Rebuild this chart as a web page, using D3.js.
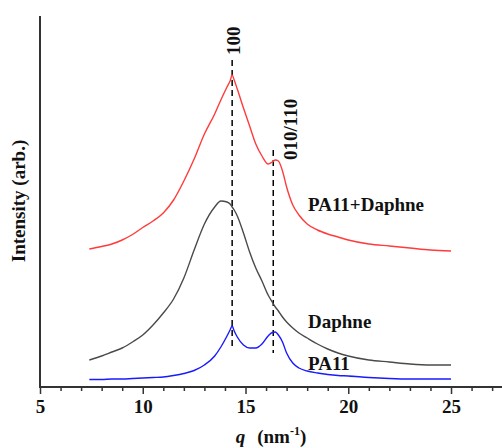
<!DOCTYPE html>
<html>
<head>
<meta charset="utf-8">
<script src="https://cdn.jsdelivr.net/npm/d3@7"></script>
<style>
  html, body { margin: 0; padding: 0; background: #fff; }
  svg { display: block; }
  text { font-family: "Liberation Serif", "Times New Roman", serif; font-weight: bold; }
</style>
</head>
<body>
<svg id="chart" width="502" height="448"></svg>
<script>
// ---- data (intensity in arbitrary units) ----
const q = [7.4, 8, 8.5, 9, 9.5, 10, 10.5, 11, 11.5, 12, 12.5, 13, 13.5, 13.8, 14.1, 14.25, 14.35, 14.45, 14.6, 14.9, 15.2, 15.5, 15.8, 16.1, 16.3, 16.45, 16.6, 16.8, 17, 17.3, 17.6, 18, 18.5, 19, 19.5, 20, 21, 22, 23, 24, 25];
const pa11Daphne = [138, 140.5, 143, 147, 152.5, 159.5, 166, 174, 187, 206, 228, 253, 273, 287, 300, 306, 312, 307, 298, 279, 261, 243, 231, 223, 225, 227, 226, 216, 200, 182, 172, 163, 157, 153, 150, 147, 143, 141, 139, 137, 136];
const daphne = [27, 31, 35, 39, 45, 52, 62, 74, 88, 109, 137, 163, 180, 186, 185, 183, 180, 177, 171, 154, 135, 119, 106, 92, 85, 80, 76, 70, 65, 59, 54, 49, 43, 38, 34, 31, 27, 25, 23, 22, 22];
const pa11 = [7.5, 7.5, 8, 8, 8.5, 9, 9.5, 10, 11.5, 13.5, 16.5, 22, 31, 40, 51, 57, 61, 56, 50, 42, 39, 39, 43, 51, 54.5, 55, 52, 45, 34, 24, 19, 16, 14, 12.5, 11.5, 11, 9.5, 8.5, 8, 8, 8];
const xTicksMajor = [5, 10, 15, 20, 25];
const xTicksMinor = [6, 7, 8, 9, 11, 12, 13, 14, 16, 17, 18, 19, 21, 22, 23, 24, 26, 27];
const peakPositions = [14.35, 16.35];
const peakLabels = ["100", "010/110"];
const seriesNames = ["PA11+Daphne", "Daphne", "PA11"];
const seriesColors = ["#ff3b3b", "#4a4a4a", "#1a1aff"];

// ---- layout ----
const svg = d3.select("#chart");
const x = d3.scaleLinear().domain([5, 27.5]).range([40, 502.4]);
const y = d3.scaleLinear().domain([0, 371]).range([387, 16]);

// dashed peak markers
const dashTop = [327, 237];   // intensity level where dashes start
const dashBot = [39, 34];
svg.selectAll(".peak").data(peakPositions).enter().append("line")
  .attr("x1", d => x(d)).attr("x2", d => x(d))
  .attr("y1", (d, i) => y(dashTop[i])).attr("y2", (d, i) => y(dashBot[i]))
  .attr("stroke", "#000").attr("stroke-width", 1.5).attr("stroke-dasharray", "6,4");

// curves
const line = d3.line().x((d, i) => x(q[i])).y(d => y(d)).curve(d3.curveMonotoneX);
[pa11Daphne, daphne, pa11].forEach((s, k) => {
  svg.append("path").datum(s).attr("d", line)
    .attr("fill", "none").attr("stroke", seriesColors[k]).attr("stroke-width", 1.4);
});

// x axis
const gMaj = svg.append("g").attr("transform", "translate(0,387)")
  .call(d3.axisBottom(x).tickValues(xTicksMajor).tickSize(7).tickPadding(6).tickFormat(d3.format("d")));
gMaj.select(".domain").remove();
gMaj.selectAll("line").attr("stroke", "#333").attr("stroke-width", 1.5);
gMaj.selectAll("text").attr("font-size", 19).attr("fill", "#111")
  .style("font-family", "'Liberation Serif', serif").style("font-weight", "bold");
const gMin = svg.append("g").attr("transform", "translate(0,387)")
  .call(d3.axisBottom(x).tickValues(xTicksMinor).tickSize(4).tickFormat(""));
gMin.select(".domain").remove();
gMin.selectAll("line").attr("stroke", "#333").attr("stroke-width", 1.5);

// axis lines
svg.append("line").attr("x1", x(5)).attr("x2", 502).attr("y1", 387).attr("y2", 387)
  .attr("stroke", "#333").attr("stroke-width", 2);
svg.append("line").attr("x1", x(5)).attr("x2", x(5)).attr("y1", 16).attr("y2", 388)
  .attr("stroke", "#333").attr("stroke-width", 2);

// axis titles
svg.append("text").attr("transform", "translate(25,201) rotate(-90)")
  .attr("text-anchor", "middle").attr("font-size", 19).attr("fill", "#111")
  .text("Intensity (arb.)");
const xt = svg.append("text").attr("x", 271).attr("y", 443)
  .attr("text-anchor", "middle").attr("font-size", 19).attr("fill", "#111");
xt.append("tspan").attr("font-style", "italic").text("q");
xt.append("tspan").attr("dx", 12).text("(nm");
xt.append("tspan").attr("font-size", 12).attr("dy", -8).text("-1");
xt.append("tspan").attr("dy", 8).text(")");

// peak labels
const labelPos = [[240, 55], [297, 160]];
peakLabels.forEach((t, i) => {
  svg.append("text").attr("transform", `translate(${labelPos[i][0]},${labelPos[i][1]}) rotate(-90)`)
    .attr("font-size", 19).attr("fill", "#111").text(t);
});

// series labels
const nameBaselines = [211, 328, 370];
seriesNames.forEach((t, i) => {
  svg.append("text").attr("x", 308).attr("y", nameBaselines[i])
    .attr("font-size", 19).attr("fill", "#111").text(t);
});
</script>
</body>
</html>
